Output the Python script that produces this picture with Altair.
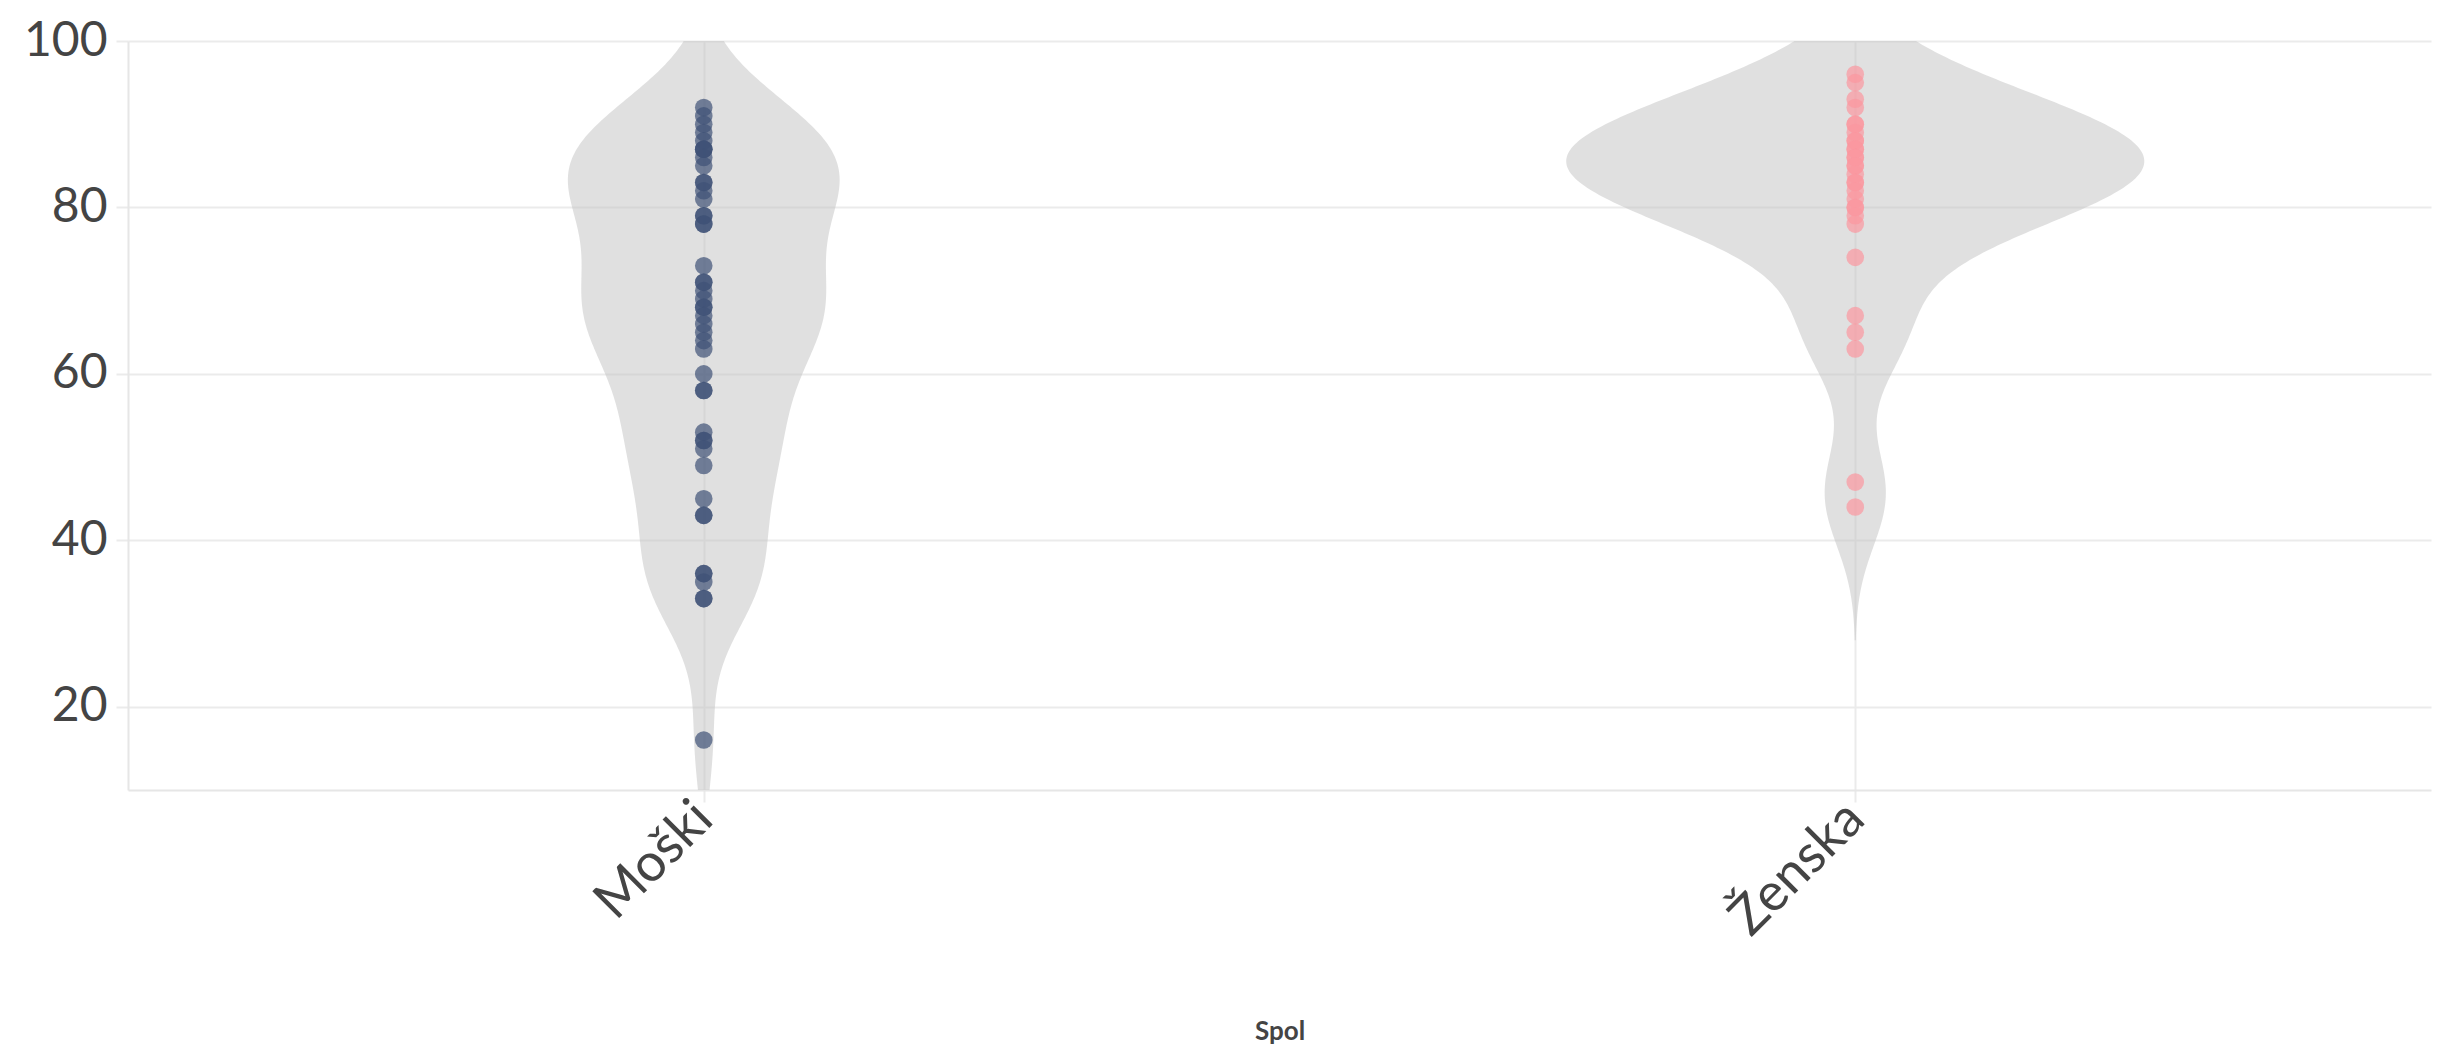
import altair as alt
import pandas as pd

categories = ["Moški", "Ženska"]
moski = [92, 91, 90, 89, 88, 87, 87, 87, 86, 85, 83, 83, 82, 81, 79, 79, 78, 78,
         73, 71, 71, 70, 69, 68, 68, 67, 66, 65, 64, 63, 60, 58, 58, 53, 52, 52,
         51, 49, 45, 43, 43, 36, 36, 35, 33, 33, 16]
zenska = [96, 95, 93, 92, 90, 90, 89, 88, 88, 87, 87, 86, 86, 85, 85, 84, 83, 83,
          82, 81, 80, 80, 79, 78, 74, 67, 65, 63, 47, 44]
point_colors = ["#3f5176", "#fb97a0"]
y_ticks = [20, 40, 60, 80, 100]
bandwidths = [6.5, 6.0]
half_widths = [0.118, 0.251]
extents = [[0, 112], [28, 115]]

rows = []
for i, (cat, vals) in enumerate(zip(categories, [moski, zenska])):
    for v in vals:
        rows.append({"Spol": cat, "idx": i, "Vrednost": v})
df = pd.DataFrame(rows)

FONT = "Lato"
xscale = alt.Scale(domain=[-0.5, 1.5], nice=False, zero=False)
yscale = alt.Scale(domain=[10, 100], nice=False, zero=False)

xaxis = alt.Axis(
    values=[0, 1],
    labelExpr="datum.value == 0 ? 'Moški' : 'Ženska'",
    labelAngle=-45, labelAlign="right", labelBaseline="middle",
    labelFontSize=53, labelPadding=8, labelColor="#444444", labelFont=FONT,
    grid=True, gridColor="#ebebeb", gridWidth=2,
    ticks=True, tickColor="#ebebeb", tickSize=12, tickWidth=2,
    domain=True, domainColor="#e6e6e6", domainWidth=2,
    title="Spol", titleFont=FONT, titleFontSize=26, titleFontWeight="bold",
    titleColor="#444444", titleY=241, titleBaseline="middle",
)
yaxis = alt.Axis(
    values=y_ticks, labelFontSize=48, labelPadding=9, labelColor="#444444",
    labelFont=FONT, grid=True, gridColor="#ebebeb", gridWidth=2,
    ticks=True, tickColor="#ebebeb", tickSize=12, tickWidth=2,
    domain=True, domainColor="#e6e6e6", domainWidth=2, title=None,
)

base = alt.Chart(df)

violins = []
for i, cat in enumerate(categories):
    v = base.transform_filter(
        alt.datum.Spol == cat
    ).transform_density(
        "Vrednost", as_=["Vrednost", "gostota"], groupby=["Spol", "idx"],
        bandwidth=bandwidths[i], extent=extents[i], steps=400,
    ).transform_joinaggregate(
        maxg="max(gostota)"
    ).transform_calculate(
        levo=f"datum.idx - datum.gostota / datum.maxg * {half_widths[i]}",
        desno=f"datum.idx + datum.gostota / datum.maxg * {half_widths[i]}",
    ).mark_area(orient="horizontal", color="#c2c2c2", opacity=0.5, clip=True).encode(
        y=alt.Y("Vrednost:Q", scale=yscale, axis=yaxis),
        x=alt.X("levo:Q", scale=xscale, axis=xaxis),
        x2="desno:Q",
    )
    violins.append(v)

points = base.mark_circle(size=310, opacity=0.7).encode(
    x=alt.X("idx:Q", scale=xscale, axis=xaxis),
    y=alt.Y("Vrednost:Q", scale=yscale, axis=yaxis),
    color=alt.Color("Spol:N", scale=alt.Scale(domain=categories, range=point_colors), legend=None),
)

chart = alt.layer(*violins, points).properties(
    width=2303, height=749,
    autosize=alt.AutoSizeParams(type="none"),
    padding={"left": 120, "top": 33, "right": 12, "bottom": 257},
).configure_view(stroke=None)

chart.save("out.html", embed_options={"renderer": "svg", "actions": False})
